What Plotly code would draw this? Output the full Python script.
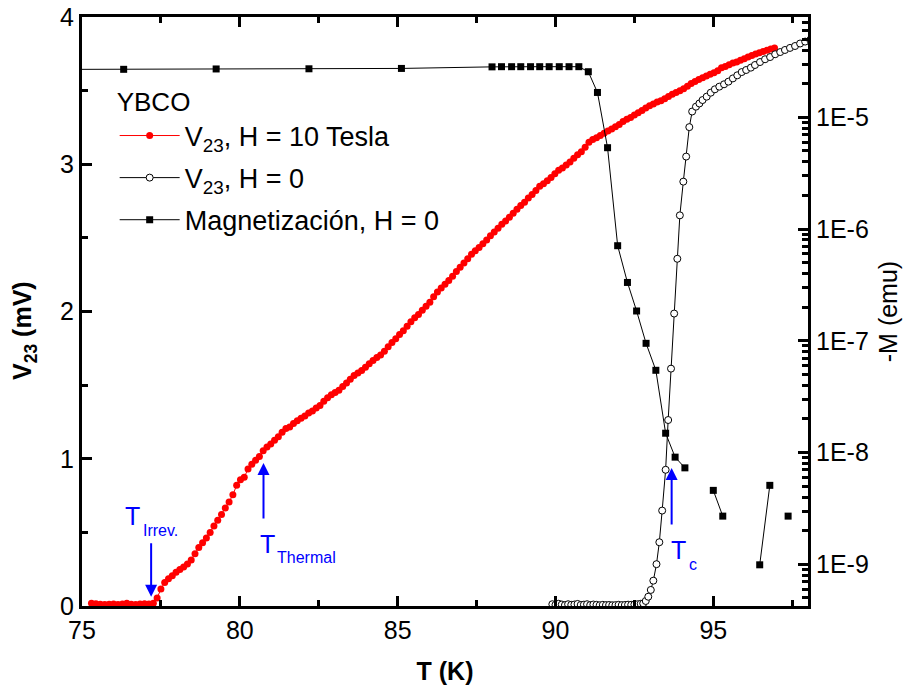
import plotly.graph_objects as go

# --- V23 at H = 10 T (mV) ---
t_10T = [75.30, 75.44, 75.58, 75.72, 75.86, 76.00, 76.14, 76.28, 76.42, 76.56, 76.70, 76.84, 76.98, 77.12, 77.26,
         77.38, 77.50, 77.62, 77.74, 77.86, 77.98, 78.10, 78.22, 78.34, 78.46, 78.58, 78.70, 78.82, 78.94, 79.06,
         79.18, 79.30, 79.42, 79.54, 79.66, 79.78, 79.90, 80.02, 80.14, 80.26, 80.38, 80.50, 80.62, 80.74, 80.86,
         80.98, 81.10, 81.22, 81.34, 81.46, 81.58, 81.70, 81.82, 81.94, 82.06, 82.18, 82.30, 82.42, 82.54, 82.66,
         82.78, 82.90, 83.02, 83.14, 83.26, 83.38, 83.50, 83.62, 83.74, 83.86, 83.98, 84.10, 84.22, 84.34, 84.46,
         84.58, 84.70, 84.82, 84.94, 85.06, 85.18, 85.30, 85.42, 85.54, 85.66, 85.78, 85.90, 86.02, 86.14, 86.26,
         86.38, 86.50, 86.62, 86.74, 86.86, 86.98, 87.10, 87.22, 87.34, 87.46, 87.58, 87.70, 87.82, 87.94, 88.06,
         88.18, 88.30, 88.42, 88.54, 88.66, 88.78, 88.90, 89.02, 89.14, 89.26, 89.38, 89.50, 89.62, 89.74, 89.86,
         89.98, 90.10, 90.22, 90.34, 90.46, 90.58, 90.70, 90.82, 90.94, 91.06, 91.18, 91.30, 91.42, 91.54, 91.66,
         91.78, 91.90, 92.02, 92.14, 92.26, 92.38, 92.50, 92.62, 92.74, 92.86, 92.98, 93.10, 93.22, 93.34, 93.46,
         93.58, 93.70, 93.82, 93.94, 94.06, 94.18, 94.30, 94.42, 94.54, 94.66, 94.78, 94.90, 95.02, 95.14, 95.26,
         95.38, 95.50, 95.62, 95.74, 95.86, 95.98, 96.10, 96.22, 96.34, 96.46, 96.58, 96.70, 96.82, 96.94]
v_10T = [0.018, 0.015, 0.012, 0.010, 0.012, 0.014, 0.011, 0.013, 0.019, 0.012, 0.010, 0.013, 0.015, 0.014, 0.018,
         0.055, 0.115, 0.160, 0.185, 0.205, 0.230, 0.248, 0.265, 0.285, 0.313, 0.355, 0.398, 0.430, 0.462, 0.500,
         0.543, 0.582, 0.622, 0.665, 0.706, 0.755, 0.820, 0.858, 0.875, 0.930, 0.962, 0.990, 1.015, 1.055, 1.080,
         1.100, 1.125, 1.150, 1.180, 1.205, 1.215, 1.240, 1.258, 1.275, 1.290, 1.310, 1.325, 1.345, 1.362, 1.390,
         1.415, 1.435, 1.450, 1.466, 1.490, 1.515, 1.540, 1.565, 1.582, 1.600, 1.622, 1.645, 1.668, 1.688, 1.705,
         1.730, 1.760, 1.790, 1.815, 1.844, 1.870, 1.900, 1.930, 1.958, 1.980, 2.008, 2.035, 2.062, 2.100, 2.132,
         2.160, 2.185, 2.210, 2.240, 2.272, 2.300, 2.330, 2.358, 2.388, 2.412, 2.435, 2.460, 2.485, 2.515, 2.540,
         2.565, 2.592, 2.615, 2.640, 2.668, 2.695, 2.720, 2.742, 2.770, 2.795, 2.822, 2.850, 2.868, 2.888, 2.910,
         2.935, 2.960, 2.975, 2.995, 3.015, 3.040, 3.065, 3.085, 3.115, 3.150, 3.168, 3.180, 3.195, 3.210, 3.225,
         3.240, 3.255, 3.270, 3.290, 3.305, 3.318, 3.335, 3.350, 3.365, 3.382, 3.398, 3.410, 3.422, 3.432, 3.445,
         3.460, 3.475, 3.487, 3.500, 3.512, 3.530, 3.548, 3.562, 3.575, 3.588, 3.600, 3.612, 3.622, 3.635, 3.655,
         3.664, 3.675, 3.688, 3.695, 3.706, 3.716, 3.728, 3.738, 3.748, 3.758, 3.766, 3.775, 3.782, 3.790]

# --- V23 at H = 0 (mV) ---
t_0T = [89.90, 90.00, 90.10, 90.20, 90.30, 90.40, 90.50, 90.60, 90.70, 90.80, 90.90, 91.00, 91.10, 91.20, 91.30,
        91.40, 91.50, 91.60, 91.70, 91.80, 91.90, 92.00, 92.10, 92.20, 92.30, 92.40, 92.50, 92.60, 92.70,
        92.78, 92.86, 92.94, 93.02, 93.10, 93.20, 93.29, 93.38, 93.49, 93.57, 93.66, 93.76, 93.86, 93.94, 94.05,
        94.14, 94.24, 94.33, 94.45, 94.56, 94.66, 94.79, 94.92, 95.05, 95.19, 95.34, 95.48, 95.62, 95.76, 95.90,
        96.04, 96.19, 96.32, 96.48, 96.64, 96.80, 96.96, 97.12, 97.27, 97.43, 97.59, 97.75, 97.91, 98.07, 98.23]
v_0T = [0.012, 0.008, 0.015, 0.010, 0.006, 0.012, 0.008, 0.010, 0.014, 0.007, 0.009, 0.012, 0.006, 0.010, 0.008,
        0.005, 0.008, 0.006, 0.007, 0.005, 0.006, 0.008, 0.006, 0.007, 0.009, 0.008, 0.010, 0.012, 0.015,
        0.018, 0.034, 0.063, 0.109, 0.172, 0.284, 0.433, 0.648, 0.925, 1.263, 1.612, 1.986, 2.358, 2.653, 2.882,
        3.052, 3.252, 3.358, 3.391, 3.413, 3.436, 3.459, 3.486, 3.509, 3.527, 3.543, 3.561, 3.583, 3.604, 3.626,
        3.640, 3.656, 3.674, 3.694, 3.713, 3.728, 3.747, 3.762, 3.776, 3.790, 3.803, 3.820, 3.833, 3.845, 3.858]

# --- Magnetization at H = 0, plotted as -M (emu); None = point not shown on log scale ---
t_mag = [73.40, 76.32, 79.25, 82.19, 85.12, 87.99, 88.29, 88.61, 88.90, 89.21, 89.50, 89.80, 90.12, 90.43, 90.74,
         91.04, 91.33, 91.65, 91.97, 92.28, 92.57, 92.87, 93.18, 93.49, 93.79, 94.10,
         94.55, 95.00, 95.30, 95.90, 96.47, 96.79, 97.08, 97.37]
m_mag = [2.68e-5, 2.69e-5, 2.71e-5, 2.72e-5, 2.74e-5, 2.83e-5, 2.84e-5, 2.84e-5, 2.84e-5, 2.84e-5, 2.84e-5,
         2.84e-5, 2.84e-5, 2.84e-5, 2.84e-5,
         2.56e-5, 1.67e-5, 5.35e-6, 7.10e-7, 3.33e-7, 1.85e-7, 9.5e-8, 5.45e-8, 1.49e-8, 9.1e-9, 7.3e-9,
         None, 4.59e-9, 2.70e-9, None, 9.9e-10, 5.09e-9, None, 2.70e-9]

# right-axis decade labels
m_ticks = [1e-9, 1e-8, 1e-7, 1e-6, 1e-5]
m_ticktext = ["1E-9", "1E-8", "1E-7", "1E-6", "1E-5"]

FONT = "Arial, Liberation Sans, sans-serif"
BLUE = "#0000FF"

fig = go.Figure()

fig.add_trace(go.Scatter(
    x=t_10T, y=v_10T, mode="lines+markers", name="V<sub>23</sub>, H = 10 Tesla",
    line=dict(color="red", width=1),
    marker=dict(symbol="circle", size=7, color="red", line=dict(width=0)),
    legendgroup="a",
))
fig.add_trace(go.Scatter(
    x=t_0T, y=v_0T, mode="lines+markers", name="V<sub>23</sub>, H = 0",
    line=dict(color="black", width=1),
    marker=dict(symbol="circle", size=7, color="white", line=dict(color="black", width=1)),
    legendgroup="b",
))
fig.add_trace(go.Scatter(
    x=t_mag, y=m_mag, mode="lines+markers", name="Magnetización, H = 0", yaxis="y2",
    connectgaps=False,
    line=dict(color="black", width=1),
    marker=dict(symbol="square", size=7, color="black", line=dict(width=0)),
    legendgroup="c",
))

# arrows marking the characteristic temperatures
arrows = [
    dict(x=77.19, y=0.063, ax=77.19, ay=0.437),
    dict(x=80.75, y=0.971, ax=80.75, ay=0.584),
    dict(x=93.68, y=0.937, ax=93.68, ay=0.543),
]
for a in arrows:
    fig.add_annotation(x=a["x"], y=a["y"], ax=a["ax"], ay=a["ay"], xref="x", yref="y", axref="x", ayref="y",
                       text="", showarrow=True, arrowhead=2, arrowsize=1.2, arrowwidth=2, arrowcolor=BLUE,
                       standoff=0, startstandoff=0)

# labels: main symbol "T" plus a smaller, lowered subscript
labels = [
    dict(x=76.30, y=0.61, sx=76.86, sy=0.51, sub="Irrev."),
    dict(x=80.58, y=0.42, sx=81.11, sy=0.33, sub="Thermal"),
    dict(x=93.59, y=0.38, sx=94.17, sy=0.28, sub="c"),
]
for l in labels:
    fig.add_annotation(x=l["x"], y=l["y"], xref="x", yref="y", text="T", showarrow=False,
                       xanchor="left", yanchor="middle", font=dict(family=FONT, size=25, color=BLUE))
    fig.add_annotation(x=l["sx"], y=l["sy"], xref="x", yref="y", text=l["sub"], showarrow=False,
                       xanchor="left", yanchor="middle", font=dict(family=FONT, size=16, color=BLUE))

# left axis title, placed as rotated text
fig.add_annotation(x=-0.079, y=0.468, xref="paper", yref="paper", text="<b>V<sub>23</sub> (mV)</b>",
                   showarrow=False, textangle=-90, xanchor="center", yanchor="middle",
                   font=dict(family=FONT, size=25, color="black"))

axis_common = dict(
    showline=True, linewidth=3, linecolor="black", showgrid=False, zeroline=False,
    ticks="inside", ticklen=10, tickwidth=3, tickcolor="black", automargin=False,
    tickfont=dict(family=FONT, size=25, color="black"),
)

fig.update_layout(
    width=917, height=695,
    margin=dict(l=82, r=109, t=17, b=89, autoexpand=False),
    paper_bgcolor="white", plot_bgcolor="white",
    font=dict(family=FONT, color="black"),
    showlegend=True,
    legend=dict(
        x=0.045, y=0.897, xanchor="left", yanchor="top",
        bgcolor="rgba(0,0,0,0)", borderwidth=0,
        font=dict(family=FONT, size=27, color="black"),
        title=dict(text="YBCO", font=dict(family=FONT, size=26, color="black")),
        tracegroupgap=4, itemwidth=60,
    ),
    xaxis=dict(
        **axis_common, range=[75, 98], tick0=75, dtick=5, mirror="ticks",
        minor=dict(dtick=2.5, ticks="inside", ticklen=6, tickwidth=3, tickcolor="black", showgrid=False),
        title=dict(text="<b>T (K)</b>", font=dict(family=FONT, size=25, color="black"), standoff=20),
    ),
    yaxis=dict(
        **axis_common, range=[0, 4], tick0=0, dtick=1,
        minor=dict(dtick=0.5, ticks="inside", ticklen=6, tickwidth=3, tickcolor="black", showgrid=False),
    ),
    yaxis2=dict(
        **axis_common, type="log", overlaying="y", side="right", anchor="x",
        range=[-9.373, -4.102], tickmode="array", tickvals=m_ticks, ticktext=m_ticktext,
        minor=dict(tickmode="array",
                   tickvals=[m * 10.0 ** e for e in range(-10, -4) for m in range(2, 10)],
                   ticks="inside", ticklen=6, tickwidth=3, tickcolor="black", showgrid=False),
        title=dict(text="-M (emu)", font=dict(family=FONT, size=25, color="black"), standoff=12),
    ),
)

fig.write_html("out.html")
